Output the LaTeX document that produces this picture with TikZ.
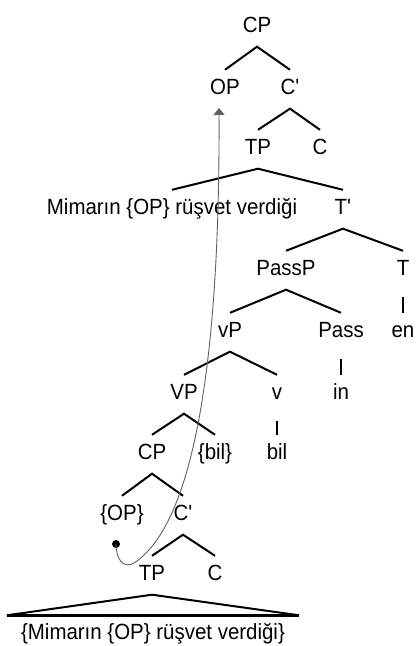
\documentclass[tikz,border=0pt]{standalone}
\usepackage{fontspec}
\setmainfont[FakeStretch=0.93]{Liberation Sans}
\usetikzlibrary{arrows.meta}
\begin{document}
\begin{tikzpicture}[x=1pt,y=1pt,
  lbl/.style={anchor=base,inner sep=0pt,text height=24.5pt,text depth=14pt,font=\fontsize{22}{26}\selectfont},
  branch/.style={line width=2pt},
  unary/.style={line width=2pt,shorten <=7.5pt},
  move/.style={black!62,line width=0.9pt,-{Triangle[length=7pt,width=11pt]}},
  tracedot/.style={circle,fill=black,inner sep=0pt,minimum size=8pt}]
\useasboundingbox (0,0) rectangle (416,646);
% labels
\node[lbl] (CPa) at (257,613.5) {CP};
\node[lbl] (OPa) at (225,551.5) {OP};
\node[lbl] (Cba) at (290,551.5) {C\textquotesingle};
\node[lbl] (TPa) at (258,491.5) {TP};
\node[lbl] (Ca) at (320,491.5) {C};
\node[lbl] (Mim) at (172,431.5) {Mimarın \{OP\} rüşvet verdiği};
\node[lbl] (Tb) at (343,431.5) {T\textquotesingle};
\node[lbl] (PassP) at (286,370.5) {PassP};
\node[lbl] (T) at (403,370.5) {T};
\node[lbl] (vP) at (230,308.5) {vP};
\node[lbl] (Pass) at (341,308.5) {Pass};
\node[lbl] (en) at (403,308.5) {en};
\node[lbl] (VP) at (184,246.5) {VP};
\node[lbl] (v) at (277,246.5) {v};
\node[lbl] (in) at (341,246.5) {in};
\node[lbl] (CPb) at (152,186.5) {CP};
\node[lbl] (bilb) at (215,186.5) {\{bil\}};
\node[lbl] (bil) at (277,186.5) {bil};
\node[lbl] (OPb) at (122,125.5) {\{OP\}};
\node[lbl] (Cbb) at (183,125.5) {C\textquotesingle};
\node[lbl] (TPb) at (152,65.5) {TP};
\node[lbl] (Cb) at (215,65.5) {C};
\node[lbl,inner xsep=14pt] (bot) at (153,6) {\{Mimarın \{OP\} rüşvet verdiği\}};
% branches
\draw[branch] (OPa.north) -- (CPa.south) -- (Cba.north);
\draw[branch] (TPa.north) -- (Cba.south) -- (Ca.north);
\draw[branch] (Mim.north) -- (TPa.south) -- (Tb.north);
\draw[branch] (PassP.north) -- (Tb.south) -- (T.north);
\draw[branch] (vP.north) -- (PassP.south) -- (Pass.north);
\draw[branch] (VP.north) -- (vP.south) -- (v.north);
\draw[branch] (CPb.north) -- (VP.south) -- (bilb.north);
\draw[branch] (OPb.north) -- (CPb.south) -- (Cbb.north);
\draw[branch] (TPb.north) -- (Cbb.south) -- (Cb.north);
\draw[unary] (T.south) -- (en.north);
\draw[unary] (Pass.south) -- (in.north);
\draw[unary] (v.south) -- (bil.north);
% triangle
\draw[branch] (bot.north west) -- (TPb.south) -- (bot.north east);
\draw[line width=2.6pt] (bot.north west) -- (bot.north east);
% movement
\node[tracedot] (dot) at (116,102) {};
\coordinate (optip) at (219,538);
\draw[move] (dot.center) .. controls (116,86) and (124,77) .. (134,83)
  .. controls (200,126) and (220,316) .. (optip);
\end{tikzpicture}
\end{document}
